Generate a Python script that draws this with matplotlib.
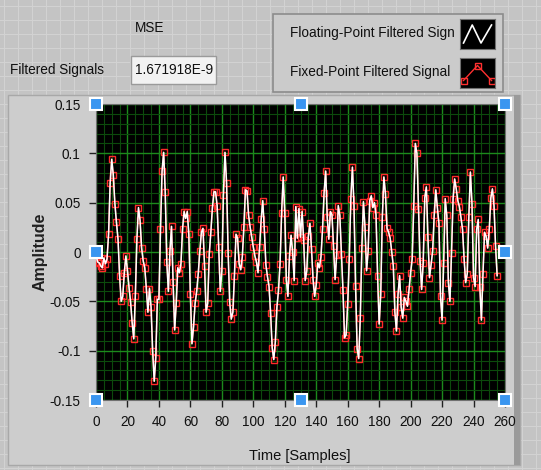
import numpy as np
import matplotlib.pyplot as plt
from matplotlib.patches import Rectangle
from matplotlib.ticker import MultipleLocator

# samples (256 points)
floatSignal = [
    -0.003, -0.010, -0.011, -0.014, -0.016, -0.006, -0.012, -0.007, 0.018, 0.070,
    0.094, 0.078, 0.049, 0.030, 0.013, -0.024, -0.050, -0.045, -0.021, -0.004,
    -0.019, -0.036, -0.051, -0.072, -0.088, -0.045, 0.013, 0.045, 0.032, 0.004,
    -0.009, -0.016, -0.037, -0.061, -0.037, -0.056, -0.100, -0.131, -0.107, -0.048,
    -0.048, 0.023, 0.082, 0.101, 0.061, -0.010, -0.040, 0.001, 0.026, -0.030,
    -0.079, -0.052, -0.016, -0.021, -0.012, 0.023, 0.041, 0.034, 0.041, 0.018,
    -0.043, -0.093, -0.076, -0.052, -0.040, -0.022, 0.001, 0.020, 0.024, -0.014,
    -0.061, -0.052, -0.002, 0.020, 0.045, 0.061, 0.061, 0.047, 0.005, -0.040,
    -0.019, 0.058, 0.101, 0.070, -0.001, -0.051, -0.068,
    -0.061, -0.024, 0.018, 0.014, -0.012, -0.018, -0.005, 0.025, 0.063, 0.062,
    0.037, 0.025, 0.015, 0.005, -0.004, -0.010, -0.021, 0.005, 0.033, 0.052,
    0.023, -0.013, -0.025, -0.035, -0.062, -0.097, -0.109, -0.091, -0.056, -0.039,
    -0.012, 0.040, 0.076, 0.040, -0.028, -0.045, -0.004, 0.017, 0.000, -0.029,
    0.046,
    0.014, 0.044, 0.015, 0.041, 0.012, -0.029, -0.019, 0.016, 0.029, 0.003,
    -0.028, -0.045, -0.033, -0.011, -0.016, -0.005, 0.023, 0.060, 0.082, 0.035,
    0.013, 0.041, 0.038, 0.006, -0.028, -0.003, 0.047, 0.037, -0.002, -0.039,
    -0.087, -0.084, -0.053, -0.007, 0.054, 0.086, 0.047, -0.034, -0.098, -0.108,
    -0.067, 0.004, 0.051, 0.025, -0.019,
    0.001, 0.052, 0.057, 0.045, 0.050, 0.038, -0.024, -0.073, -0.043, 0.035,
    0.076, 0.059, 0.024, 0.020, 0.014, 0.000, -0.014, -0.061, -0.080, -0.043,
    -0.024, -0.056, -0.067, -0.046, -0.050, -0.055, -0.038, -0.021, -0.007, 0.047,
    0.110, 0.100, 0.044, -0.009, -0.038, -0.011, 0.055, 0.066, 0.015, -0.026,
    -0.013, 0.001,
    0.037, 0.063, 0.045, 0.029, -0.045, -0.069, -0.011, 0.054, 0.037, -0.031,
    -0.050, -0.001, 0.054, 0.074, 0.064, 0.052, 0.046, 0.035, 0.023, -0.007,
    -0.031, -0.022, 0.035, 0.081, 0.049, -0.026, -0.035, 0.023, 0.033, -0.035,
    -0.069, -0.022, 0.020, 0.016, 0.004, 0.023, 0.055, 0.064, 0.047, 0.006,
    -0.024,
]
# fixed-point result is identical to within MSE 1.7e-9
fixedSignal = list(floatSignal)
mseText = '1.671918E-9'
xTicks = list(range(0, 261, 20))
yTicks = [-0.15, -0.1, -0.05, 0, 0.05, 0.1, 0.15]
yTickLabels = ['-0.15', '-0.1', '-0.05', '0', '0.05', '0.1', '0.15']
cursorX = [0, 130, 260, 0, 260, 0, 130, 260]
cursorY = [0.15, 0.15, 0.15, 0, 0, -0.15, -0.15, -0.15]

W, H = 541, 470
plt.rcParams['font.family'] = ['Liberation Sans Narrow', 'Liberation Sans', 'DejaVu Sans']

def box(x, y, w, h):
    # pixel box (top-left origin) -> figure fraction
    return [x / W, 1 - (y + h) / H, w / W, h / H]

fig = plt.figure(figsize=(W / 100, H / 100), dpi=100, facecolor='#c4c4c4')

# panel grid pattern
for gx in range(4, W, 14):
    fig.add_artist(plt.Line2D([gx / W, gx / W], [0, 1], color='#d2d2d2', lw=0.8, zorder=0))
for gy in range(6, H, 14):
    fig.add_artist(plt.Line2D([0, 1], [1 - gy / H, 1 - gy / H], color='#d2d2d2', lw=0.8, zorder=0))

# graph frame
b = box(8, 95, 512, 370)
fig.add_artist(Rectangle((b[0], b[1]), b[2], b[3], transform=fig.transFigure,
                         facecolor='#cdcdcd', edgecolor='#a8a8a8', lw=1, zorder=1))
b = box(514, 95, 6, 370)
fig.add_artist(Rectangle((b[0], b[1]), b[2], b[3], transform=fig.transFigure,
                         facecolor='#9a9a9a', edgecolor='none', zorder=1))

# MSE indicator
fs = 9.8
fig.text(135 / W, 1 - 28 / H, 'MSE', fontsize=fs, va='center', ha='left', color='#101010')
fig.text(10 / W, 1 - 70 / H, 'Filtered Signals', fontsize=fs, va='center', ha='left', color='#101010')
b = box(131, 56, 85, 28)
fig.add_artist(Rectangle((b[0], b[1]), b[2], b[3], transform=fig.transFigure,
                         facecolor='#f2f2f2', edgecolor='#9a9a9a', lw=1, zorder=2))
fig.text(135 / W, 1 - 70 / H, mseText, fontsize=fs, va='center', ha='left', color='#101010', zorder=3)

# legend panel
b = box(273, 14, 230, 78)
fig.add_artist(Rectangle((b[0], b[1]), b[2], b[3], transform=fig.transFigure,
                         facecolor='#cbcbcb', edgecolor='#8c8c8c', lw=1.2, zorder=2))
fig.text(290 / W, 1 - 33 / H, 'Floating-Point Filtered Sign', fontsize=fs, va='center', ha='left', color='#101010', zorder=3)
fig.text(290 / W, 1 - 72 / H, 'Fixed-Point Filtered Signal', fontsize=fs, va='center', ha='left', color='#101010', zorder=3)
sw1 = fig.add_axes(box(460, 19, 35, 30), facecolor='black')
sw1.plot([0.1, 0.35, 0.6, 0.9], [0.2, 0.8, 0.2, 0.8], color='white', lw=1.2)
sw2 = fig.add_axes(box(460, 58, 35, 30), facecolor='black')
sw2.plot([0.1, 0.5, 0.9], [0.25, 0.75, 0.25], color='#ff3030', lw=1,
         marker='s', ms=4, mfc='none', mec='#ff3030')
for s in (sw1, sw2):
    s.set_zorder(5)
    s.set_xlim(0, 1)
    s.set_ylim(0, 1)
    s.set_xticks([])
    s.set_yticks([])
    for sp in s.spines.values():
        sp.set_color('#707070')

# main plot
ax = fig.add_axes(box(96, 104, 409, 296), facecolor='black')
ax.set_zorder(5)
samples = np.arange(len(floatSignal))
ax.plot(samples, fixedSignal, color='#ff3030', lw=1, marker='s', ms=4.5,
        mfc='none', mec='#ff2a2a', mew=1, zorder=3)
ax.plot(samples, floatSignal, color='white', lw=1.1, zorder=4)
ax.plot(cursorX, cursorY, 's', ms=8, mfc='#3a96f0', mec='white', mew=1.5,
        clip_on=False, zorder=6)

ax.set_xlim(0, 260)
ax.set_ylim(-0.15, 0.15)
ax.set_xticks(xTicks)
ax.set_yticks(yTicks)
ax.set_yticklabels(yTickLabels)
ax.xaxis.set_minor_locator(MultipleLocator(5))
ax.yaxis.set_minor_locator(MultipleLocator(0.01))
ax.grid(which='minor', color='#0c4a0c', lw=0.8)
ax.grid(which='major', color='#1c8a1c', lw=1)
ax.set_axisbelow(True)
ax.tick_params(which='major', direction='out', length=5, width=1, color='#202020',
               labelsize=fs, labelcolor='#101010', pad=6)
ax.tick_params(which='minor', length=0)
for sp in ax.spines.values():
    sp.set_color('#707070')

fig.text(40 / W, 1 - 252 / H, 'Amplitude', rotation=90, fontsize=11.5, fontweight='bold',
         va='center', ha='center', color='#202020')
fig.text(300 / W, 1 - 456 / H, 'Time [Samples]', fontsize=10.5, va='center', ha='center', color='#101010')

fig.savefig('out.png', dpi=100, facecolor=fig.get_facecolor())
